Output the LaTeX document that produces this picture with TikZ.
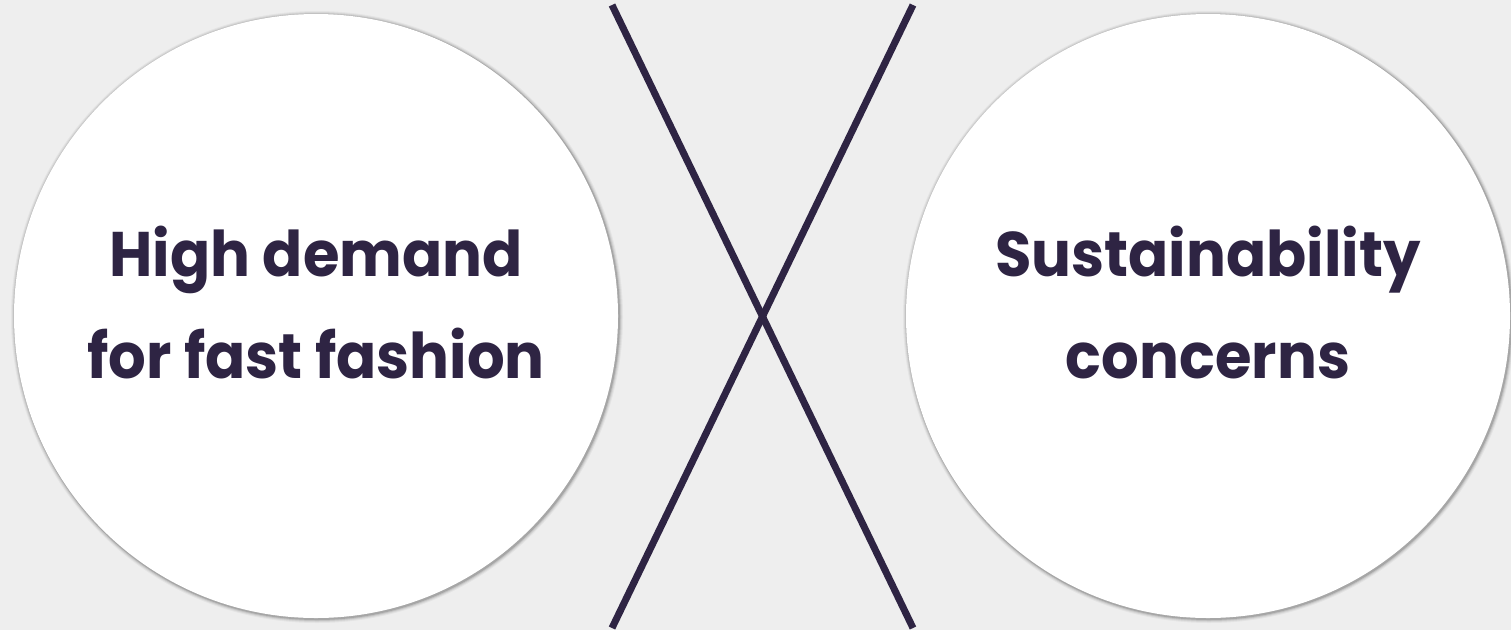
\documentclass[tikz,border=0pt]{standalone}
\usepackage{fontspec}
\setmainfont{Poppins}
\newfontfamily\labfont{Poppins}[FakeStretch=0.94]
\definecolor{bg}{HTML}{EEEEEE}
\definecolor{ink}{HTML}{2E2443}
\begin{document}
\begin{tikzpicture}[x=1pt,y=-1pt,
  bubble/.style={circle,fill=white,minimum size=604pt,inner sep=0pt},
  label/.style={font=\labfont\fontsize{63}{102}\selectfont\bfseries,text=ink,align=center},
  xline/.style={draw=ink,line width=7pt}]
\fill[bg] (0,0) rectangle (1511,630);
\useasboundingbox (0,0) rectangle (1511,630);
% shadows
\foreach \cx in {316,1208}{
  \foreach \r/\o in {306/0.04,305/0.06,304/0.09,303/0.14}{
    \fill[black,opacity=\o] (\cx+1,317) circle (\r);
  }
}
\node[bubble] (left) at (316,316) {};
\node[bubble] (right) at (1208,316) {};
\node[label] (lt) at (316,303) {High demand\\for fast fashion};
\node[label] (rt) at (1208,303) {Sustainability\\concerns};
\coordinate (a1) at (612,5);
\coordinate (a2) at (913,628);
\coordinate (b1) at (913,5);
\coordinate (b2) at (612,628);
\draw[xline] (a1) -- (a2);
\draw[xline] (b1) -- (b2);
\end{tikzpicture}
\end{document}
